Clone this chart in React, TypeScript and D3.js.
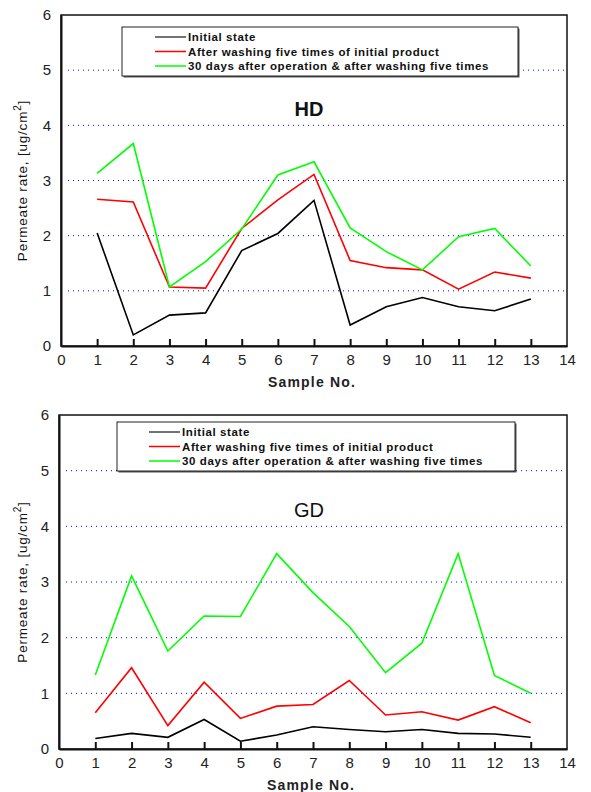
import React, {useEffect, useRef} from "react";
import * as d3 from "d3";

// sample numbers on the x axis
const samples = [1, 2, 3, 4, 5, 6, 7, 8, 9, 10, 11, 12, 13];
const xTicks = [0, 1, 2, 3, 4, 5, 6, 7, 8, 9, 10, 11, 12, 13, 14];
const yTicks = [0, 1, 2, 3, 4, 5, 6];
const gridTicks = [1, 2, 3, 4, 5];

const seriesNames = [
    "Initial state",
    "After washing five times of initial product",
    "30 days after operation & after washing five times"
];
const seriesColors = ["#000000", "#ff0000", "#00ff00"];

// HD panel
const hdInitial = [2.05, 0.2, 0.56, 0.6, 1.73, 2.04, 2.64, 0.38, 0.71, 0.88, 0.71, 0.64, 0.85];
const hdWashed = [2.66, 2.61, 1.07, 1.05, 2.13, 2.65, 3.11, 1.55, 1.42, 1.38, 1.03, 1.34, 1.23];
const hd30days = [3.13, 3.67, 1.07, 1.53, 2.12, 3.1, 3.34, 2.14, 1.71, 1.38, 1.98, 2.13, 1.45];

// GD panel
const gdInitial = [0.19, 0.28, 0.21, 0.53, 0.14, 0.25, 0.4, 0.35, 0.31, 0.35, 0.28, 0.27, 0.21];
const gdWashed = [0.65, 1.46, 0.42, 1.2, 0.55, 0.77, 0.8, 1.23, 0.61, 0.67, 0.52, 0.76, 0.47];
const gd30days = [1.33, 3.11, 1.76, 2.39, 2.38, 3.51, 2.81, 2.2, 1.37, 1.9, 3.51, 1.32, 1.0];

const font = "Arial, 'Liberation Sans', sans-serif";

const drawPanel = (svg, cfg) => {
    const {left, top, right, bottom, series, label, labelBold, legend} = cfg;
    const g = svg.append("g");

    const x = d3.scaleLinear().domain([0, 14]).range([left, right]);
    const y = d3.scaleLinear().domain([0, 6]).range([bottom, top]);

    // grid
    g.selectAll(".grid")
        .data(gridTicks)
        .join("line")
        .attr("x1", left + 7)
        .attr("x2", right - 2)
        .attr("y1", d => y(d))
        .attr("y2", d => y(d))
        .attr("stroke", "#0000ff")
        .attr("stroke-width", 1)
        .attr("stroke-dasharray", "1 4");

    // frame
    g.append("rect")
        .attr("x", left).attr("y", top)
        .attr("width", right - left).attr("height", bottom - top)
        .attr("fill", "none").attr("stroke", "#111").attr("stroke-width", 1.5);

    // axes
    const xAxis = d3.axisBottom(x).tickValues(xTicks).tickSizeInner(-7).tickSizeOuter(0).tickPadding(8);
    const yAxis = d3.axisLeft(y).tickValues(yTicks).tickFormat(d3.format("d")).tickSize(0).tickPadding(10);

    const gx = g.append("g").attr("transform", `translate(0, ${bottom})`).call(xAxis);
    const gy = g.append("g").attr("transform", `translate(${left}, 0)`).call(yAxis);
    [gx, gy].forEach(a => {
        a.select(".domain").attr("stroke", "#111").attr("stroke-width", 2);
        a.selectAll(".tick line").attr("stroke", "#111").attr("stroke-width", 2);
        a.selectAll(".tick text").attr("fill", "#222").style("font-family", font).style("font-size", "15px");
    });
    gx.selectAll(".tick line").filter(d => d === 0 || d === 14).remove();

    // lines
    const line = d3.line().x((d, i) => x(samples[i])).y(d => y(d));
    series.forEach((s, i) => {
        g.append("path")
            .attr("d", line(s))
            .attr("fill", "none")
            .attr("stroke", seriesColors[i])
            .attr("stroke-width", 1.6)
            .attr("stroke-linejoin", "miter");
    });

    // axis titles
    g.append("text")
        .attr("x", (left + right) / 2 - 2)
        .attr("y", bottom + 41)
        .attr("text-anchor", "middle")
        .style("font-family", font).style("font-size", "14px").style("font-weight", "bold")
        .attr("fill", "#222")
        .attr("letter-spacing", "1.2")
        .text("Sample No.");

    const yt = g.append("text")
        .attr("transform", `translate(27, ${(top + bottom) / 2}) rotate(-90)`)
        .attr("text-anchor", "middle")
        .style("font-family", font).style("font-size", "13.5px")
        .attr("letter-spacing", "0.8")
        .attr("fill", "#111");
    yt.append("tspan").text("Permeate rate, [ug/cm");
    yt.append("tspan").attr("dy", -6).style("font-size", "10px").text("2");
    yt.append("tspan").attr("dy", 6).text("]");

    // panel label
    g.append("text")
        .attr("x", 309).attr("y", y(4.3))
        .attr("dy", "0.35em")
        .attr("text-anchor", "middle")
        .style("font-family", font).style("font-size", "20px")
        .style("font-weight", labelBold ? "bold" : "normal")
        .attr("fill", "#111")
        .text(label);

    // legend
    const lg = g.append("g").attr("transform", `translate(${legend.x}, ${legend.y})`);
    lg.append("rect")
        .attr("x", 1.5).attr("y", 1.5).attr("width", legend.w).attr("height", legend.h)
        .attr("fill", "#555");
    lg.append("rect")
        .attr("width", legend.w).attr("height", legend.h)
        .attr("fill", "#fff").attr("stroke", "#222").attr("stroke-width", 1);
    seriesNames.forEach((name, i) => {
        const cy = 10 + i * 14.5;
        lg.append("line")
            .attr("x1", legend.lx).attr("x2", legend.lx + 31)
            .attr("y1", cy).attr("y2", cy)
            .attr("stroke", i === 0 ? "#444" : seriesColors[i]).attr("stroke-width", 1.5);
        lg.append("text")
            .attr("x", legend.lx + 33).attr("y", cy)
            .attr("dy", "0.36em")
            .style("font-family", font).style("font-size", "11.5px").style("font-weight", "bold")
            .attr("letter-spacing", "0.6")
            .attr("fill", "#111")
            .text(name);
    });
};

const App = () => {
    const ref = useRef();

    useEffect(() => {
        const svg = d3.select(ref.current);
        svg.selectAll("*").remove();

        drawPanel(svg, {
            left: 61, top: 15, right: 567, bottom: 346,
            series: [hdInitial, hdWashed, hd30days],
            label: "HD", labelBold: true,
            legend: {x: 122, y: 27, w: 396, h: 49, lx: 33}
        });
        drawPanel(svg, {
            left: 59, top: 415, right: 567, bottom: 749,
            series: [gdInitial, gdWashed, gd30days],
            label: "GD", labelBold: false,
            legend: {x: 117, y: 422, w: 398, h: 49, lx: 32}
        });
    }, []);

    return (
        <svg ref={ref} width={591} height={792}
             style={{position: "absolute", left: 0, top: 0, background: "#fff"}}></svg>
    );
};

export default App;
